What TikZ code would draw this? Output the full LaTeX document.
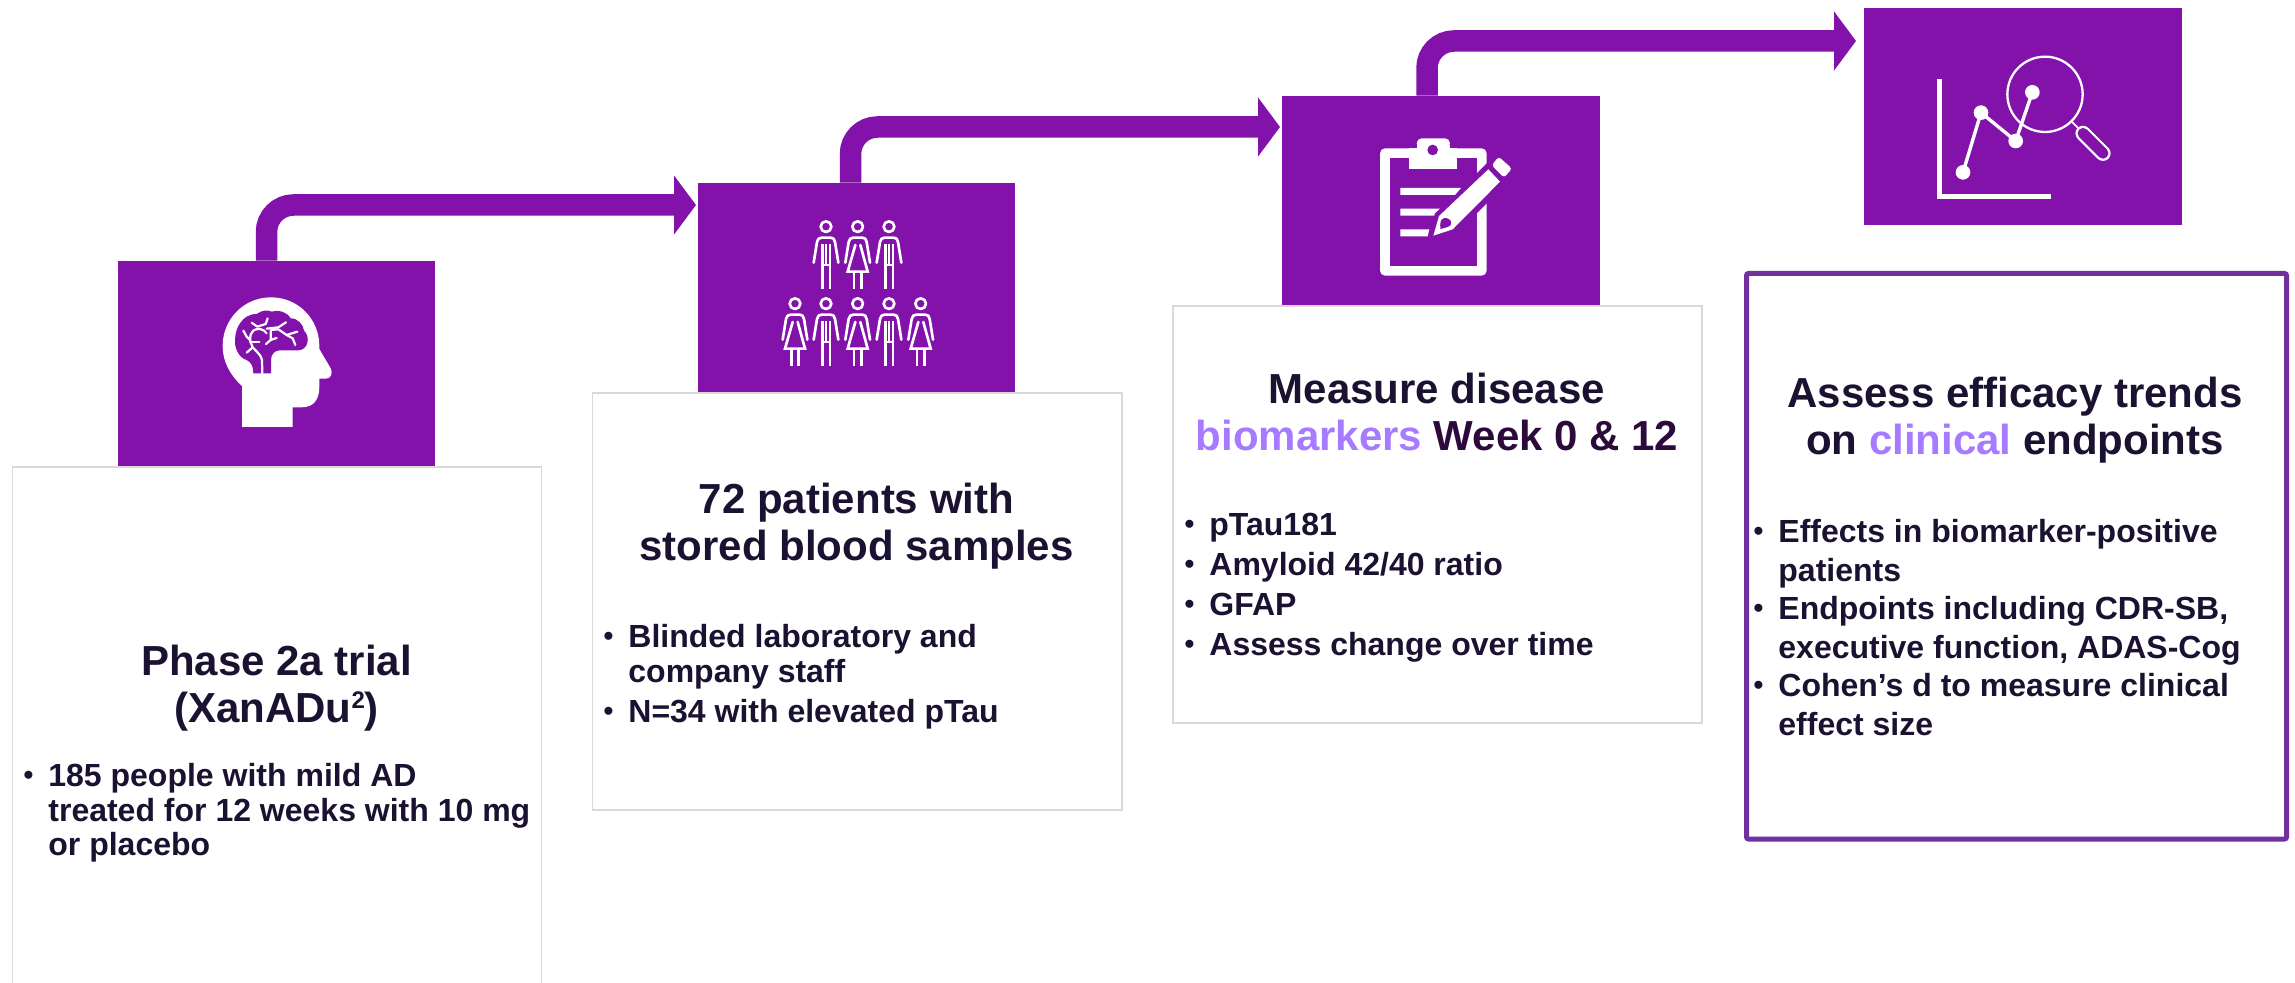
\documentclass[tikz,border=0pt]{standalone}
\usepackage{fontspec}
\setmainfont{Liberation Sans}
\usetikzlibrary{arrows.meta}
\definecolor{brandp}{HTML}{8312AB}
\definecolor{lilac}{HTML}{A77BFF}
\definecolor{ink}{HTML}{1A1230}
\definecolor{deepp}{HTML}{2D0A3C}
\definecolor{frame}{HTML}{7030A0}
\definecolor{greyl}{HTML}{D9D9D9}
\newcommand{\bl}{\llap{\raisebox{1pt}{\fontsize{14}{14}\selectfont\textbullet}\hspace{7.5pt}}}
\tikzset{
  x=0.5pt,y=-0.5pt,
  iconbox/.style={fill=brandp,draw=none,inner sep=0pt,minimum width=158.75pt},
  textbox/.style={draw=greyl,line width=0.9pt,fill=white,inner sep=0pt},
  heading/.style={font=\fontsize{21}{23.5}\selectfont\bfseries,text=ink,align=center,inner sep=0pt,anchor=north},
  bodytxt/.style={font=\fontsize{16}{17.25}\selectfont\bfseries,text=ink,align=left,inner sep=0pt,anchor=north west},
  flow/.style={draw=brandp,line width=10.75pt,rounded corners=13.5pt,-{Triangle[length=11pt,width=29pt]}},
  figline/.style={draw=white,line width=1.33pt,line join=round,line cap=round},
  manfig/.pic={
    \draw[figline] (0,-29) circle (16);
    \draw[figline] (-37,79) -- (-27,17) .. controls (-26,8) and (-20,4) .. (-13,4) -- (14,4) .. controls (21,4) and (26,8) .. (27,17) -- (37,79);
    \draw[figline,line cap=butt] (-11,23) -- (-11,159);
    \draw[figline,line cap=butt] (12,23) -- (12,159);
    \draw[figline,line cap=butt] (0,23) -- (0,86);
    \draw[figline,line cap=butt] (-11,86) -- (12,86);
  },
  womanfig/.pic={
    \draw[figline] (0,-29) circle (16);
    \draw[figline] (-37,79) -- (-27,17) .. controls (-26,8) and (-20,4) .. (-13,4) -- (14,4) .. controls (21,4) and (26,8) .. (27,17) -- (37,79);
    \draw[figline,line join=miter] (-7,26) -- (-30,106) -- (30,106) -- (8,26);
    \draw[figline,line cap=butt] (-11,106) -- (-11,159);
    \draw[figline,line cap=butt] (11,106) -- (11,159);
  },
}
\begin{document}
\begin{tikzpicture}
\useasboundingbox (0,0) rectangle (2295,983);

% text boxes
\path[textbox] (12.5,467) rectangle (541.5,990);
\path[textbox] (592.5,393) rectangle (1122,810);
\path[textbox] (1173,306) rectangle (1702,723);
\path[draw=frame,line width=2.5pt,fill=white,rounded corners=1pt] (1746.5,273.5) rectangle (2286.5,839);

% icon boxes
\node[iconbox,minimum height=102.5pt] (p1) at (276.5,363.5) {};
\node[iconbox,minimum height=104.5pt] (p2) at (856.5,287.5) {};
\node[iconbox,minimum height=104.5pt] (p3) at (1441,200.5) {};
\node[iconbox,minimum height=108.5pt] (p4) at (2023,116.5) {};

% connectors
\coordinate (a1) at (696,205);
\coordinate (a2) at (1280,127);
\coordinate (a3) at (1856,41);
\draw[flow] ([xshift=-5pt]p1.north) |- (a1);
\draw[flow] ([xshift=-3pt]p2.north) |- (a2);
\draw[flow] ([xshift=-7pt]p3.north) |- (a3);

% brain icon
\begin{scope}[shift={(100,170)},scale=1/3]
  \fill[white] (426,771) -- (426,648) .. controls (390,615) and (368,575) .. (368,528)
    .. controls (368,447) and (432,382) .. (513,382) .. controls (594,382) and (658,447) .. (658,528)
    -- (658,537) -- (692,595) .. controls (700,610) and (692,626) .. (678,626) -- (658,626) -- (658,650)
    .. controls (658,690) and (640,712) .. (605,712) -- (578,712) -- (578,771) -- cycle;
  \fill[brandp] (460,610) .. controls (460,590) and (455,578) .. (440,570)
    .. controls (420,565) and (405,540) .. (405,515) .. controls (405,490) and (412,470) .. (420,460)
    .. controls (430,445) and (445,432) .. (470,432) .. controls (485,422) and (500,418) .. (515,425)
    .. controls (535,418) and (560,425) .. (572,445) .. controls (595,445) and (610,465) .. (612,482)
    .. controls (632,500) and (625,540) .. (595,541) -- (540,541)
    .. controls (525,541) and (513,552) .. (513,570) -- (513,610) -- cycle;
  \begin{scope}[draw=white,line width=1.1pt,line cap=round,line join=round]
    \draw (487,610) -- (486,570) .. controls (484,555) and (465,540) .. (458,532) .. controls (450,515) and (445,495) .. (460,482) .. controls (470,474) and (490,474) .. (500,490);
    \draw (500,476) -- (535,472) -- (558,457);
    \draw (512,480) -- (535,478) -- (560,495) -- (578,505) -- (586,525);
    \draw (560,495) -- (592,485);
    \draw (512,482) -- (512,510) -- (498,522);
    \draw (512,510) -- (530,504);
    \draw (450,515) -- (478,515);
    \draw (455,458) -- (472,470) -- (497,462) -- (503,445);
    \draw (430,482) -- (440,500) -- (450,510);
    \draw (458,532) -- (440,548);
  \end{scope}
\end{scope}

% people icon
\begin{scope}[shift={(680,170)},scale=1/3]
  \pic[scale=1/3] at (438,199) {manfig};
  \pic[scale=1/3] at (533,199) {womanfig};
  \pic[scale=1/3] at (627,199) {manfig};
  \pic[scale=1/3] at (345,430) {womanfig};
  \pic[scale=1/3] at (438,430) {manfig};
  \pic[scale=1/3] at (533,430) {womanfig};
  \pic[scale=1/3] at (627,430) {manfig};
  \pic[scale=1/3] at (722,430) {womanfig};
\end{scope}

% clipboard icon
\begin{scope}[shift={(1260,90)},scale=1/3]
  \fill[white,rounded corners=2.5pt] (360,175) rectangle (680,557);
  \fill[brandp] (390,205) rectangle (650,527);
  \fill[brandp] (645,255) -- (685,215) -- (685,335) -- (645,375) -- cycle;
  \fill[white,rounded corners=2.5pt] (470,175) -- (470,145) -- (570,145) -- (570,175) -- cycle;
  \fill[white] (470,165) rectangle (570,178);
  \fill[white] (447,175) rectangle (592,237);
  \fill[brandp] (518,180) circle (16);
  \fill[white] (421,294) -- (603,294) -- (585,315) -- (421,315) -- cycle;
  \fill[white] (421,356) -- (540,356) -- (523,377) -- (421,377) -- cycle;
  \fill[white] (421,418) -- (508,418) -- (503,439) -- (421,439) -- cycle;
  \fill[brandp] (690,225) -- (735,270) -- (580,430) -- (505,450) -- (525,370) -- cycle;
  \fill[white] (685,238) -- (720,275) -- (578,418) -- (520,437) -- (537,378) -- cycle;
  \fill[brandp] (541,417) .. controls (540,400) and (540,388) .. (553,384) .. controls (568,382) and (578,396) .. (572,405) .. controls (566,412) and (552,414) .. (541,417) -- cycle;
  \fill[white,rounded corners=1.5pt] (716,200) -- (756,236) -- (732,263) -- (695,226) -- cycle;
\end{scope}

% chart icon
\begin{scope}[shift={(1850,0)},scale=1/3]
  \draw[white,line width=2.5pt,line join=miter] (269,238) -- (269,589) -- (604,589);
  \draw[white,line width=1.7pt,line join=round] (339,517) -- (393,338) -- (497,423) -- (547,277);
  \fill[white] (339,517) circle (22);
  \fill[white] (393,338) circle (22);
  \fill[white] (497,423) circle (22);
  \fill[white] (547,277) circle (22);
  \draw[white,line width=1.15pt] (585,283) circle (113);
  \draw[white,line width=0.9pt] (666,366) -- (686,386);
  \draw[white,line width=7.6pt,line cap=round] (699,400) -- (759,460);
  \draw[brandp,line width=5.4pt,line cap=round] (699,400) -- (759,460);
\end{scope}

% headings
\node[heading] (h1) at (276.5,645) {Phase 2a trial\\(XanADu\raisebox{7.3pt}{\fontsize{12}{12}\selectfont 2})};
\node[heading] (h2) at (856.5,483) {72 patients with\\stored blood samples};
\node[heading] (h3) at (1437,373) {Measure disease\\{\color{lilac}biomarkers} {\color{deepp}Week 0 \& 12}};
\node[heading] (h4) at (2015,377) {Assess efficacy trends\\on {\color{lilac}clinical} endpoints};

% bodies
\node[bodytxt] (b1) at (48,763) {\bl 185 people with mild AD\\treated for 12 weeks with 10 mg\\or placebo};
\node[bodytxt] (b2) at (628,624) {\bl Blinded laboratory and\\company staff\\[3.2pt]\bl N=34 with elevated pTau};
\node[bodytxt] (b3) at (1209,513) {\bl pTau181\\[2.7pt]\bl Amyloid 42/40 ratio\\[2.7pt]\bl GFAP\\[2.7pt]\bl Assess change over time};
\node[bodytxt,font=\fontsize{16}{19.25}\selectfont\bfseries] (b4) at (1778,519) {\bl Effects in biomarker-positive\\patients\\\bl Endpoints including CDR-SB,\\executive function, ADAS-Cog\\\bl Cohen’s d to measure clinical\\effect size};
\end{tikzpicture}
\end{document}
